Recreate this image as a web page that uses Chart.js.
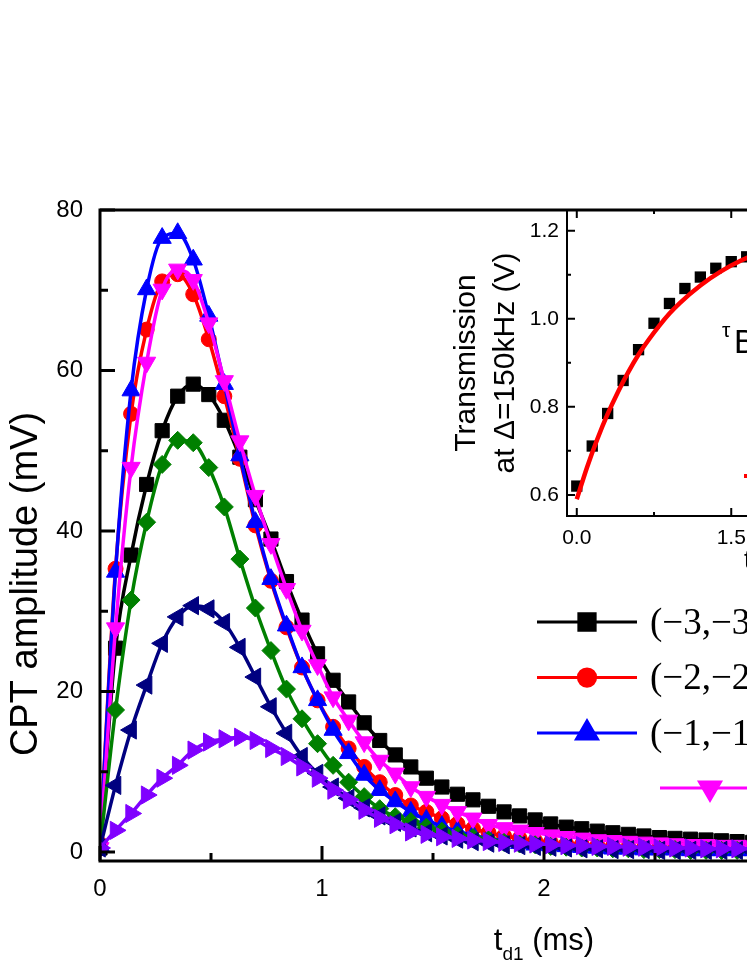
<!DOCTYPE html>
<html><head><meta charset="utf-8">
<script src="https://cdn.jsdelivr.net/npm/chart.js@4.4.1/dist/chart.umd.min.js"></script>
<style>
html,body{margin:0;padding:0;background:#fff;overflow:hidden;width:747px;height:967px;}
#wrap{position:relative;width:747px;height:967px;overflow:hidden;background:#fff;}
#main{position:absolute;left:0;top:0;width:1050px;height:967px;}
#inset{position:absolute;left:440px;top:170px;width:520px;height:420px;}
</style></head><body>
<div id="wrap">
<canvas id="main" width="1050" height="967"></canvas>
<canvas id="inset" width="520" height="420"></canvas>
</div>
<script>
// ---------- data ----------
const tD = [0,0.07,0.14,0.21,0.28,0.35,0.42,0.49,0.56,0.63,
  0.70,0.77,0.84,0.91,0.98,1.05,1.12,1.19,1.26,1.33,
  1.40,1.47,1.54,1.61,1.68,1.75,1.82,1.89,1.96,2.03,
  2.10,2.17,2.24,2.31,2.38,2.45,2.52,2.59,2.66,2.73,
  2.80,2.87,2.94,3.01,3.08];
const ampM3 = [0.5,25.4,37.0,45.8,52.5,56.8,58.3,57.0,53.8,49.2,
  43.9,39.0,33.7,28.9,24.7,21.4,18.7,16.1,13.9,12.1,
  10.6,9.2,8.1,7.2,6.5,5.7,5.0,4.5,4.0,3.5,
  3.1,2.9,2.6,2.4,2.2,2.0,1.8,1.7,1.6,1.5,
  1.4,1.3,1.2,1.1,1.1];
const ampM2 = [1.0,35.3,54.6,65.1,71.1,72.0,69.5,63.9,56.8,49.0,
  40.7,33.8,28.0,23.0,18.9,15.6,12.9,10.6,8.7,7.1,
  5.8,5.0,4.2,3.5,2.9,2.4,2.0,1.7,1.4,1.2,
  1.0,0.9,0.8,0.7,0.6,0.5,0.5,0.4,0.4,0.4,
  0.3,0.3,0.3,0.3,0.2];
const ampM1 = [0.8,34.9,57.5,70.1,76.5,77.1,73.8,66.8,58.3,49.4,
  41.1,34.0,28.2,23.0,18.9,15.2,12.3,9.6,7.7,6.3,
  5.0,4.0,3.2,2.6,2.1,1.7,1.4,1.1,0.9,0.8,
  0.7,0.6,0.5,0.4,0.4,0.3,0.3,0.3,0.2,0.2,
  0.2,0.2,0.2,0.2,0.1];
const amp0 = [0.5,27.9,47.9,61.0,70.1,72.6,71.3,65.9,58.7,51.2,
  44.4,38.4,32.8,27.6,23.3,19.3,16.4,13.7,11.4,9.8,
  8.1,6.9,5.9,5.0,4.2,3.4,3.0,2.7,2.4,2.1,
  1.9,1.7,1.5,1.4,1.3,1.2,1.1,1.0,0.9,0.9,
  0.8,0.8,0.7,0.7,0.6];
const ampP1 = [0.5,17.7,31.4,41.1,48.3,51.3,51.0,47.9,43.0,36.5,
  30.4,25.1,20.3,16.6,13.5,10.8,8.7,6.9,5.4,4.4,
  3.8,3.1,2.6,2.1,1.8,1.5,1.2,1.0,0.9,0.7,
  0.6,0.5,0.5,0.4,0.4,0.3,0.3,0.3,0.2,0.2,
  0.2,0.2,0.2,0.2,0.1];
const ampP2 = [0.5,8.3,15.2,20.8,26.0,29.3,30.7,30.3,28.6,25.5,
  21.8,18.1,14.8,11.9,9.8,8.1,6.7,5.5,4.5,3.7,
  3.0,2.4,2.0,1.6,1.3,1.1,0.9,0.8,0.7,0.6,
  0.5,0.4,0.4,0.3,0.3,0.3,0.2,0.2,0.2,0.2,
  0.2,0.2,0.1,0.1,0.1];
const ampP3 = [0.5,2.7,4.8,7.1,9.2,10.8,12.7,13.7,14.1,14.3,
  13.9,12.9,11.9,10.6,9.2,7.7,6.5,5.2,4.2,3.4,
  2.5,2.2,1.9,1.7,1.5,1.3,1.2,1.1,1.0,0.9,
  0.8,0.8,0.7,0.7,0.6,0.6,0.5,0.5,0.5,0.4,
  0.4,0.4,0.4,0.3,0.3];
const legendLabels = ['(\u22123,\u22123)','(\u22122,\u22122)','(\u22121,\u22121)','(0,0)'];
const xTicks = [0,1,2,3,4];
const xMinor = [0.5,1.5,2.5,3.5];
const yTicks = [0,20,40,60,80];
const yMinor = [10,30,50,70];

const insetT = [0,0.15,0.30,0.45,0.60,0.75,0.90,1.05,1.20,1.35,1.50,1.65,1.80,1.95,2.10,2.25,2.40,2.55,2.70,2.85,3.00];
const insetV = [0.620,0.711,0.785,0.860,0.930,0.990,1.035,1.069,1.095,1.115,1.130,1.141,1.152,1.162,1.170,1.177,1.183,1.188,1.192,1.196,1.199];
const fitT = [0,0.1,0.2,0.3,0.4,0.5,0.6,0.7,0.8,0.9,1.0,1.2,1.4,1.6,1.8,2.0,2.2,2.4,2.6,2.8,3.0];
const fitV = [0.590,0.663,0.727,0.784,0.834,0.879,0.919,0.953,0.984,1.012,1.036,1.076,1.108,1.133,1.153,1.168,1.180,1.189,1.196,1.202,1.207];
const insetXTicks = [0,1.5,3.0];
const insetXMinor = [0.75,2.25];
const insetYTicks = [0.6,0.8,1.0,1.2];
const insetYMinor = [0.7,0.9,1.1];

// ---------- styles ----------
const SANS = "'Liberation Sans', Arial, sans-serif";
const SERIF = "'Liberation Serif', 'Times New Roman', serif";
const seriesStyle = [
  {color:'#000000', style:'rect', r:10, rot:0},
  {color:'#ff0000', style:'circle', r:7.5, rot:0},
  {color:'#0000ff', style:'triangle', r:10.5, rot:0},
  {color:'#ff00ff', style:'triangle', r:10.5, rot:180},
  {color:'#008000', style:'rectRot', r:9, rot:0},
  {color:'#000080', style:'triangle', r:10.5, rot:270},
  {color:'#8000ff', style:'triangle', r:10.5, rot:90}
];
const seriesData = [ampM3, ampM2, ampM1, amp0, ampP1, ampP2, ampP3];
const drawOrder = [6,5,4,3,2,1,0];

const datasets = seriesData.map((arr, i) => {
  const s = seriesStyle[i];
  return {
    label: i < legendLabels.length ? legendLabels[i] : 'series ' + (i+1),
    data: tD.map((t, k) => ({x: t, y: arr[k]})),
    borderColor: s.color, backgroundColor: s.color,
    pointBackgroundColor: s.color, pointBorderColor: s.color,
    pointStyle: s.style, pointRadius: s.r, pointRotation: s.rot,
    pointBorderWidth: 1, borderWidth: 3.5,
    cubicInterpolationMode: 'monotone',
    order: drawOrder[i]
  };
});

const frameTicks = {
  id: 'frameTicks',
  afterDatasetsDraw(chart, args, o) {
    const {ctx, chartArea: a, scales: {x, y}} = chart;
    ctx.save();
    ctx.strokeStyle = '#000';
    ctx.lineWidth = o.lw;
    ctx.beginPath();
    const tick = (vals, len, top) => {
      vals.forEach(v => {
        const px = x.getPixelForValue(v);
        ctx.moveTo(px, a.bottom); ctx.lineTo(px, a.bottom - len);
        if (top) { ctx.moveTo(px, a.top); ctx.lineTo(px, a.top + len); }
      });
    };
    const ytick = (vals, len, right) => {
      vals.forEach(v => {
        const py = y.getPixelForValue(v);
        ctx.moveTo(a.left, py); ctx.lineTo(a.left + len, py);
        if (right) { ctx.moveTo(a.right, py); ctx.lineTo(a.right - len, py); }
      });
    };
    tick(o.xMajor, o.major, o.both); tick(o.xMinor, o.minor, o.both);
    ytick(o.yMajor, o.major, o.both); ytick(o.yMinor, o.minor, o.both);
    ctx.stroke();
    ctx.beginPath();
    ctx.rect(a.left, a.top, a.right - a.left, a.bottom - a.top);
    ctx.stroke();
    ctx.restore();
  }
};

const mainDeco = {
  id: 'mainDeco',
  afterDraw(chart) {
    const {ctx, chartArea: a} = chart;
    ctx.save();
    ctx.fillStyle = '#000';
    // y title
    ctx.save();
    ctx.translate(27, 584);
    ctx.rotate(-Math.PI/2);
    ctx.font = '38px ' + SANS;
    ctx.textAlign = 'center'; ctx.textBaseline = 'middle';
    ctx.fillText('CPT amplitude (mV)', 0, 0);
    ctx.restore();
    // x title with subscript
    const big = '31px ' + SANS, small = '19px ' + SANS;
    ctx.font = big; const wT = ctx.measureText('t').width; const wMs = ctx.measureText(' (ms)').width;
    ctx.font = small; const wSub = ctx.measureText('d1').width;
    const total = wT + wSub + wMs;
    let xx = (a.left + a.right) / 2 - total / 2;
    const base = 950;
    ctx.textBaseline = 'alphabetic'; ctx.textAlign = 'left';
    ctx.font = big; ctx.fillText('t', xx, base); xx += wT;
    ctx.font = small; ctx.fillText('d1', xx, base + 10); xx += wSub;
    ctx.font = big; ctx.fillText(' (ms)', xx, base);
    // legend
    const rows = [
      {i:0, x1:537, y:622}, {i:1, x1:537, y:677.5}, {i:2, x1:537, y:733}, {i:3, x1:660, y:788}
    ];
    rows.forEach(r => {
      const s = seriesStyle[r.i];
      ctx.strokeStyle = s.color; ctx.fillStyle = s.color; ctx.lineWidth = 3;
      ctx.beginPath(); ctx.moveTo(r.x1, r.y); ctx.lineTo(r.x1 + 100, r.y); ctx.stroke();
      Chart.helpers.drawPoint(ctx, {pointStyle: s.style, rotation: s.rot, radius: s.r * 1.15, borderWidth: 1}, r.x1 + 50, r.y);
      ctx.fillStyle = '#000';
      ctx.font = '37px ' + SERIF; ctx.textBaseline = 'middle'; ctx.textAlign = 'left';
      ctx.fillText(chart.data.datasets[r.i].label, r.x1 + 113, r.y + 2);
    });
    ctx.restore();
  }
};

new Chart(document.getElementById('main'), {
  type: 'line',
  data: { datasets },
  plugins: [frameTicks, mainDeco],
  options: {
    responsive: false, animation: false, devicePixelRatio: 1,
    layout: { padding: { top: 210, right: 62, left: 0, bottom: 0 } },
    plugins: { legend: { display: false }, tooltip: { enabled: false },
      frameTicks: { lw: 3, major: 15, minor: 8, both: false, xMajor: xTicks, xMinor: xMinor, yMajor: yTicks, yMinor: yMinor } },
    scales: {
      x: { type: 'linear', min: 0, max: 4, offset: false,
        afterBuildTicks: s => { s.ticks = xTicks.map(v => ({value: v})); },
        afterFit: s => { s.height = 106; },
        grid: { display: false, drawTicks: false }, border: { display: false },
        ticks: { color: '#000', font: { family: SANS, size: 24 }, padding: 14, maxRotation: 0 } },
      y: { type: 'linear', min: -1.12, max: 80,
        afterBuildTicks: s => { s.ticks = yTicks.map(v => ({value: v})); },
        afterFit: s => { s.width = 100; },
        grid: { display: false, drawTicks: false }, border: { display: false },
        ticks: { color: '#000', font: { family: SANS, size: 24 }, padding: 17 } }
    }
  }
});

// ---------- inset ----------
const insetDeco = {
  id: 'insetDeco',
  afterDraw(chart) {
    const {ctx} = chart;
    ctx.save();
    ctx.fillStyle = '#000';
    ctx.textAlign = 'left'; ctx.textBaseline = 'alphabetic';
    ctx.font = '21px ' + SANS;
    ctx.fillText('\u03C4', 282, 167);
    ctx.font = '33px ' + SANS;
    ctx.fillText('B', 294, 183);
    ctx.strokeStyle = '#ff0000'; ctx.lineWidth = 4;
    ctx.beginPath(); ctx.moveTo(304, 306); ctx.lineTo(360, 306); ctx.stroke();
    ctx.fillStyle = '#000';
    ctx.font = '26px ' + SANS;
    ctx.fillText('t (ms)', 304, 398);
    ctx.restore();
  }
};

new Chart(document.getElementById('inset'), {
  type: 'line',
  data: { datasets: [
    { label: 'fit', data: fitT.map((t, k) => ({x: t, y: fitV[k]})), borderColor: '#ff0000', borderWidth: 4.5,
      pointRadius: 0, cubicInterpolationMode: 'monotone', order: 0 },
    { label: 'data', data: insetT.map((t, k) => ({x: t, y: insetV[k]})), showLine: false,
      pointStyle: 'rect', pointRadius: 8, pointBackgroundColor: '#000', pointBorderColor: '#000', pointBorderWidth: 0, order: 1 }
  ]},
  plugins: [frameTicks, insetDeco],
  options: {
    responsive: false, animation: false, devicePixelRatio: 1,
    layout: { padding: { top: 40, right: 64, left: 0, bottom: 0 } },
    plugins: { legend: { display: false }, tooltip: { enabled: false },
      frameTicks: { lw: 2, major: 8, minor: 4, both: true, xMajor: insetXTicks, xMinor: insetXMinor, yMajor: insetYTicks, yMinor: insetYMinor } },
    scales: {
      x: { type: 'linear', min: -0.095, max: 3.1,
        afterBuildTicks: s => { s.ticks = insetXTicks.map(v => ({value: v})); },
        afterFit: s => { s.height = 74; },
        grid: { display: false, drawTicks: false }, border: { display: false },
        ticks: { color: '#000', font: { family: SANS, size: 21 }, padding: 10, maxRotation: 0, callback: v => Number(v).toFixed(1) } },
      y: { type: 'linear', min: 0.552, max: 1.2474,
        afterBuildTicks: s => { s.ticks = insetYTicks.map(v => ({value: v})); },
        afterFit: s => { s.width = 127; },
        grid: { display: false, drawTicks: false }, border: { display: false },
        title: { display: true, text: ['Transmission', 'at \u0394=150kHz (V)'], color: '#000',
          font: { family: SANS, size: 30, lineHeight: 1.3 }, padding: { top: 7.5, bottom: 0 } },
        ticks: { color: '#000', font: { family: SANS, size: 21 }, padding: 8, callback: v => Number(v).toFixed(1) } }
    }
  }
});
</script>
</body></html>
